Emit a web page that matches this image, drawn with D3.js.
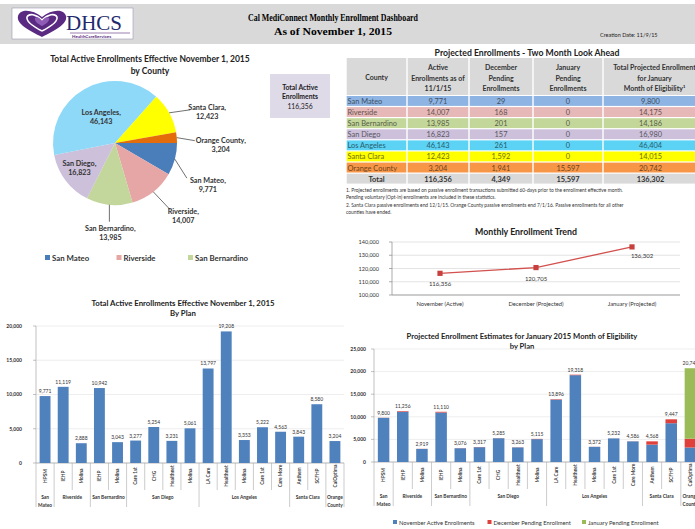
<!DOCTYPE html>
<html>
<head>
<meta charset="utf-8">
<style>
  body { margin: 0; background: #fff; }
  svg { display: block; font-family: Lato, "Open Sans", sans-serif; }
  .ttl { font-weight: bold; fill: #222; text-anchor: middle; }
</style>
</head>
<body>
<svg width="695" height="529"></svg>
<script src="https://d3js.org/d3.v7.min.js"></script>
<script>
// ---- data ----
var counties = ["San Mateo", "Riverside", "San Bernardino", "San Diego", "Los Angeles", "Santa Clara", "Orange County"];
var activeByCounty = [9771, 14007, 13985, 16823, 46143, 12423, 3204];
var decByCounty = [29, 168, 201, 157, 261, 1592, 1941];
var janByCounty = [0, 0, 0, 0, 0, 0, 15597];
var projByCounty = [9800, 14175, 14186, 16980, 46404, 14015, 20742];
var tableTotals = [116356, 4349, 15597, 136302];
var totalActive = 116356;

var trendMonths = ["November (Active)", "December (Projected)", "January (Projected)"];
var trendValues = [116356, 120705, 136302];

var plans = ["HPSM", "IEHP", "Molina", "IEHP", "Molina", "Care 1st", "CHG", "Healthnet", "Molina",
  "LA Care", "Healthnet", "Molina", "Care 1st", "Care More", "Anthem", "SCFHP", "CalOptima"];
var planCounty = ["San Mateo", "Riverside", "Riverside", "San Bernardino", "San Bernardino",
  "San Diego", "San Diego", "San Diego", "San Diego", "Los Angeles", "Los Angeles", "Los Angeles",
  "Los Angeles", "Los Angeles", "Santa Clara", "Santa Clara", "Orange County"];
var planActive = [9771, 11119, 2888, 10942, 3043, 3277, 5254, 3231, 5061, 13797, 19208, 3353, 5222, 4563, 3843, 8580, 3204];
var planDecPending = [29, 137, 31, 168, 33, 40, 31, 32, 54, 99, 110, 19, 10, 23, 725, 867, 1941];
var planJanPending = [0, 0, 0, 0, 0, 0, 0, 0, 0, 0, 0, 0, 0, 0, 0, 0, 15597];

var groupLabels = {"San Mateo": ["San", "Mateo"], "Orange County": ["Orange", "County"]};

var fmt = d3.format(",");
var svg = d3.select("svg");

var pieColor = d3.scaleOrdinal().domain(counties)
  .range(["#4a7ebb", "#e6a6a5", "#c3d69b", "#ccc0da", "#8ed8f8", "#ffff00", "#e46c0a"]);
var rowColor = d3.scaleOrdinal().domain(counties)
  .range(["#8db4e2", "#e6b8b7", "#c4d79b", "#ccc0da", "#5cd3f5", "#ffff00", "#f79646"]);

// ---- header ----
svg.append("rect").attr("x", 0).attr("y", 4).attr("width", 695).attr("height", 40).attr("fill", "#d9d9d9");
var logo = svg.append("g");
logo.append("rect").attr("x", 12).attr("y", 8).attr("width", 121).attr("height", 31)
  .attr("fill", "#fff").attr("stroke", "#9a9ab0").attr("stroke-width", 0.6);
logo.append("path")
  .attr("d", "M42,37 C30,31 16,24 18,16 C20,9 32,9 42,17 C52,9 64,9 66,16 C68,24 54,31 42,37 Z")
  .attr("fill", "#5a2a82");
logo.append("path")
  .attr("d", "M42,31 C34,27 26,22 27,17 C29,13 36,14 42,20 C48,14 55,13 57,17 C58,22 50,27 42,31")
  .attr("fill", "none").attr("stroke", "#fff").attr("stroke-width", 1.6);
logo.append("path")
  .attr("d", "M42,26 C38,24 34,21 35,18 C37,16 40,18 42,21 C44,18 47,16 49,18 C50,21 46,24 42,26 Z")
  .attr("fill", "#8e5bb5");
logo.append("text").attr("x", 66).attr("y", 30).attr("font-family", "Liberation Serif")
  .attr("font-size", 21).attr("fill", "#22286e").text("DHCS");
logo.append("line").attr("x1", 70).attr("x2", 130).attr("y1", 33).attr("y2", 33)
  .attr("stroke", "#5a2a82").attr("stroke-width", 0.6);
logo.append("text").attr("x", 72).attr("y", 37.5).attr("font-size", 4.5).attr("font-weight", "bold")
  .attr("fill", "#5a2a82").text("HealthCareServices");

svg.append("text").attr("x", 333).attr("y", 21).attr("text-anchor", "middle")
  .attr("font-family", "Liberation Serif").attr("font-weight", "bold").attr("font-size", 11)
  .attr("textLength", 170).attr("lengthAdjust", "spacingAndGlyphs")
  .text("Cal MediConnect Monthly Enrollment Dashboard");
svg.append("text").attr("x", 333).attr("y", 35).attr("text-anchor", "middle")
  .attr("font-family", "Liberation Serif").attr("font-weight", "bold").attr("font-size", 11)
  .attr("textLength", 118).attr("lengthAdjust", "spacingAndGlyphs")
  .text("As of November 1, 2015");
svg.append("text").attr("x", 600).attr("y", 37).attr("font-size", 5.5).attr("fill", "#222")
  .text("Creation Date: 11/9/15");

// ---- pie by county ----
svg.append("text").attr("class", "ttl").attr("x", 150).attr("y", 62).attr("font-size", 8.5)
  .text("Total Active Enrollments Effective November 1, 2015");
svg.append("text").attr("class", "ttl").attr("x", 150).attr("y", 74).attr("font-size", 8.5).text("by County");

var cx = 115, cy = 143, R = 62;
var pie = d3.pie().sort(null).startAngle(Math.PI / 2).endAngle(Math.PI / 2 + 2 * Math.PI);
var arcs = pie(activeByCounty);
var arc = d3.arc().innerRadius(0).outerRadius(R);
var pg = svg.append("g").attr("transform", "translate(" + cx + "," + cy + ")");
pg.selectAll("path").data(arcs).enter().append("path")
  .attr("d", arc)
  .attr("fill", function(d, i) { return pieColor(counties[i]); });

// label placement: inside ones use a radius fraction, outside ones offsets from the rim
var pieLabelLayout = {
  "San Mateo": {line: [12, 19], text: [33, 24]},
  "Riverside": {line: [17, 18], text: [30, 22]},
  "San Bernardino": {line: [0, 17], text: [1, 26]},
  "San Diego": {inside: 0.72},
  "Los Angeles": {inside: 0.45},
  "Santa Clara": {line: [21, -3], text: [38, -3]},
  "Orange County": {line: [18, 3], text: [44, 5]}
};
arcs.forEach(function(d, i) {
  var name = counties[i], lay = pieLabelLayout[name];
  var a = (d.startAngle + d.endAngle) / 2;
  var ex = Math.sin(a) * R, ey = -Math.cos(a) * R;
  var tx, ty;
  if (lay.inside) {
    tx = ex * lay.inside; ty = ey * lay.inside - 4;
  } else {
    pg.append("line").attr("x1", ex).attr("y1", ey)
      .attr("x2", ex + lay.line[0]).attr("y2", ey + lay.line[1])
      .attr("stroke", "#333").attr("stroke-width", 0.7);
    tx = ex + lay.text[0]; ty = ey + lay.text[1];
  }
  var t = pg.append("text").attr("text-anchor", "middle").attr("font-size", 7.2)
    .attr("font-weight", "bold").attr("fill", "#333");
  t.append("tspan").attr("x", tx).attr("y", ty).text(name + ",");
  t.append("tspan").attr("x", tx).attr("y", ty + 9).text(fmt(activeByCounty[i]));
});

// pie legend (only the first three entries visible)
var legItems = counties.slice(0, 3);
var legX = d3.scalePoint().domain(legItems).range([45, 188]);
legItems.forEach(function(c) {
  svg.append("rect").attr("x", legX(c)).attr("y", 255).attr("width", 5).attr("height", 5).attr("fill", pieColor(c));
  svg.append("text").attr("x", legX(c) + 7).attr("y", 260.5).attr("font-size", 7.8)
    .attr("font-weight", "bold").attr("fill", "#333").text(c);
});

// total box
svg.append("rect").attr("x", 270).attr("y", 74).attr("width", 60).attr("height", 44).attr("fill", "#dfdae8");
svg.append("text").attr("x", 300).attr("y", 90).attr("text-anchor", "middle").attr("font-size", 6.8)
  .attr("font-weight", "bold").attr("fill", "#222").text("Total Active");
svg.append("text").attr("x", 300).attr("y", 99).attr("text-anchor", "middle").attr("font-size", 6.8)
  .attr("font-weight", "bold").attr("fill", "#222").text("Enrollments");
svg.append("text").attr("x", 300).attr("y", 109).attr("text-anchor", "middle").attr("font-size", 6.8)
  .attr("fill", "#222").text(fmt(totalActive));

// ---- table ----
svg.append("text").attr("class", "ttl").attr("x", 527).attr("y", 56).attr("font-size", 8.7)
  .text("Projected Enrollments - Two Month Look Ahead");
var colEdges = [346, 407, 469, 533, 603, 702];
var headerLines = [
  ["County"],
  ["Active", "Enrollments as of", "11/1/15"],
  ["December", "Pending", "Enrollments"],
  ["January", "Pending", "Enrollments"],
  ["Total Projected Enrollment", "for January", "Month of Eligibility\u00b9"]
];
var tg = svg.append("g");
var headTop = 58, headH = 37, rowTop = 96, rowH = 11.1;
headerLines.forEach(function(lines, c) {
  var x0 = colEdges[c], x1 = colEdges[c + 1];
  tg.append("rect").attr("x", x0 + 0.7).attr("y", headTop).attr("width", x1 - x0 - 1.4)
    .attr("height", headH).attr("fill", "#d9d9d9");
  lines.forEach(function(l, k) {
    tg.append("text").attr("x", (x0 + x1) / 2 + (c === 4 ? 2 : 0))
      .attr("y", headTop + 20 - (lines.length - 1) * 5 + k * 10.5 + 2)
      .attr("text-anchor", "middle").attr("font-size", 7).attr("font-weight", "bold")
      .attr("fill", "#333").text(l);
  });
});
var tableRows = counties.map(function(c, i) {
  return [c, activeByCounty[i], decByCounty[i], janByCounty[i], projByCounty[i]];
});
tableRows.forEach(function(row, r) {
  var y = rowTop + r * rowH, fill = rowColor(row[0]);
  var tc = d3.color(fill).darker(2.3).formatHex();
  row.forEach(function(v, c) {
    var x0 = colEdges[c], x1 = colEdges[c + 1];
    tg.append("rect").attr("x", x0 + 0.7).attr("y", y).attr("width", x1 - x0 - 1.4)
      .attr("height", rowH - 1.2).attr("fill", fill);
    tg.append("text").attr("x", c === 0 ? x0 + 1.5 : (x0 + x1) / 2 - (c === 4 ? 2 : 0))
      .attr("y", y + 7.9).attr("text-anchor", c === 0 ? "start" : "middle")
      .attr("font-size", 7.4).attr("fill", tc).text(c === 0 ? v : fmt(v));
  });
});
var totY = rowTop + counties.length * rowH;
["Total"].concat(tableTotals).forEach(function(v, c) {
  var x0 = colEdges[c], x1 = colEdges[c + 1];
  tg.append("rect").attr("x", x0 + 0.7).attr("y", totY).attr("width", x1 - x0 - 1.4)
    .attr("height", rowH - 1.2).attr("fill", "#d9d9d9");
  tg.append("text").attr("x", (x0 + x1) / 2 - (c === 4 ? 2 : 0)).attr("y", totY + 7.9)
    .attr("text-anchor", "middle").attr("font-size", 7.4).attr("font-weight", "bold")
    .attr("fill", "#333").text(c === 0 ? v : fmt(v));
});
var notes = [
  "1. Projected enrollments are based on passive enrollment transactions submitted 60-days prior to the enrollment effective month.",
  "Pending voluntary (Opt-in) enrollments are included in these statistics.",
  "2. Santa Clara passive enrollments end 12/1/15. Orange County passive enrollments end 7/1/16. Passive enrollments for all other",
  "counties have ended."
];
notes.forEach(function(n, k) {
  svg.append("text").attr("x", 346).attr("y", 192 + k * 7.3).attr("font-size", 4.9)
    .attr("fill", "#333").text(n);
});

// ---- trend line ----
svg.append("text").attr("class", "ttl").attr("x", 526).attr("y", 235).attr("font-size", 8.8)
  .text("Monthly Enrollment Trend");
var tx = d3.scaleBand().domain(trendMonths).range([392, 680]);
var ty = d3.scaleLinear().domain([100000, 140000]).range([295, 242]);
var trg = svg.append("g");
ty.ticks(4).forEach(function(t) {
  trg.append("line").attr("x1", 392).attr("x2", 680).attr("y1", ty(t)).attr("y2", ty(t))
    .attr("stroke", "#d9d9d9").attr("stroke-width", 0.7);
  trg.append("line").attr("x1", 389).attr("x2", 392).attr("y1", ty(t)).attr("y2", ty(t))
    .attr("stroke", "#888").attr("stroke-width", 0.7);
  trg.append("text").attr("x", 379).attr("y", ty(t) + 2).attr("text-anchor", "end")
    .attr("font-size", 5.5).attr("fill", "#333").text(fmt(t));
});
trg.append("line").attr("x1", 392).attr("x2", 392).attr("y1", 242).attr("y2", 295).attr("stroke", "#888").attr("stroke-width", 0.7);
trg.append("line").attr("x1", 392).attr("x2", 680).attr("y1", 295).attr("y2", 295).attr("stroke", "#888").attr("stroke-width", 0.7);
trendMonths.forEach(function(m) {
  trg.append("text").attr("x", tx(m) + tx.bandwidth() / 2).attr("y", 306).attr("text-anchor", "middle")
    .attr("font-size", 5.8).attr("fill", "#333").text(m);
});
var tline = d3.line().x(function(d, i) { return tx(trendMonths[i]) + tx.bandwidth() / 2; })
  .y(function(d) { return ty(d); });
trg.append("path").attr("d", tline(trendValues)).attr("fill", "none")
  .attr("stroke", "#d2504d").attr("stroke-width", 1.3);
trendValues.forEach(function(v, i) {
  var px = tx(trendMonths[i]) + tx.bandwidth() / 2, py = ty(v);
  trg.append("rect").attr("x", px - 2.6).attr("y", py - 2.6).attr("width", 5.2).attr("height", 5.2).attr("fill", "#c8403e");
  trg.append("text").attr("x", px + (i === 2 ? 10 : 0)).attr("y", py + (i === 2 ? 11 : 13))
    .attr("text-anchor", "middle").attr("font-size", 6).attr("fill", "#333").text(fmt(v));
});

// ---- bar charts by plan ----
function barChart(o) {
  var g = svg.append("g");
  var n = plans.length;
  var x = d3.scaleBand().domain(d3.range(n)).range([o.left, o.right]).paddingInner(0.4).paddingOuter(0.2);
  var y = d3.scaleLinear().domain([0, o.max]).range([o.bottom, o.top]);
  var step = x.step();
  y.ticks(o.max / 5000).forEach(function(t) {
    g.append("line").attr("x1", o.left).attr("x2", o.right).attr("y1", y(t)).attr("y2", y(t))
      .attr("stroke", "#e3e3e3").attr("stroke-width", 0.6);
    g.append("line").attr("x1", o.left - 3).attr("x2", o.left).attr("y1", y(t)).attr("y2", y(t))
      .attr("stroke", "#999").attr("stroke-width", 0.6);
    g.append("text").attr("x", o.left - o.labelGap).attr("y", y(t) + 1.8).attr("text-anchor", "end")
      .attr("font-size", 5).attr("font-weight", "bold").attr("fill", "#333").text(fmt(t));
  });
  g.append("line").attr("x1", o.left).attr("x2", o.left).attr("y1", o.top).attr("y2", o.bottom)
    .attr("stroke", "#999").attr("stroke-width", 0.6);
  g.append("line").attr("x1", o.left).attr("x2", o.right).attr("y1", o.bottom).attr("y2", o.bottom)
    .attr("stroke", "#999").attr("stroke-width", 0.6);

  var rows = plans.map(function(p, i) {
    return {nov: planActive[i], dec: o.stacked ? planDecPending[i] : 0, jan: o.stacked ? planJanPending[i] : 0};
  });
  var series = d3.stack().keys(["nov", "dec", "jan"])(rows);
  var colors = {nov: "#4f81bd", dec: "#e0403c", jan: "#9bbb59"};
  series.forEach(function(s) {
    g.selectAll(null).data(s).enter().append("rect")
      .attr("x", function(d, i) { return x(i); })
      .attr("width", x.bandwidth())
      .attr("y", function(d) { return y(d[1]); })
      .attr("height", function(d) { return y(d[0]) - y(d[1]); })
      .attr("fill", colors[s.key]);
  });
  rows.forEach(function(r, i) {
    var tot = r.nov + r.dec + r.jan;
    g.append("text").attr("x", x(i) + x.bandwidth() / 2).attr("y", y(tot) - 3)
      .attr("text-anchor", "middle").attr("font-size", 5).attr("fill", "#333").text(fmt(tot));
    g.append("text")
      .attr("transform", "translate(" + (x(i) + x.bandwidth() / 2 + 1.8) + "," + (o.bottom + 13) + ") rotate(-90)")
      .attr("text-anchor", "middle").attr("font-size", 4.8).attr("font-weight", "bold")
      .attr("fill", "#444").text(plans[i]);
  });
  // separators and county groups
  for (var i = 0; i <= n; i++) {
    var edge = i === 0 || i === n || planCounty[i] !== planCounty[i - 1];
    g.append("line").attr("x1", o.left + i * step).attr("x2", o.left + i * step)
      .attr("y1", o.bottom).attr("y2", o.bottom + (edge ? 44 : 27))
      .attr("stroke", "#aaa").attr("stroke-width", 0.6);
  }
  counties.forEach(function(c) {
    var idx = d3.range(n).filter(function(i) { return planCounty[i] === c; });
    var mid = o.left + (idx[0] + idx[idx.length - 1] + 1) / 2 * step;
    var lines = groupLabels[c] || [c];
    lines.forEach(function(l, k) {
      g.append("text").attr("x", mid).attr("y", o.bottom + 36 + k * 7.5).attr("text-anchor", "middle")
        .attr("font-size", 4.8).attr("font-weight", "bold").attr("fill", "#333").text(l);
    });
  });
}

svg.append("text").attr("class", "ttl").attr("x", 183).attr("y", 306).attr("font-size", 7.8)
  .text("Total Active Enrollments Effective November 1, 2015");
svg.append("text").attr("class", "ttl").attr("x", 183).attr("y", 316).attr("font-size", 7.8).text("By Plan");
barChart({left: 36, right: 344, top: 326, bottom: 463, max: 20000, stacked: false, labelGap: 14});

svg.append("text").attr("class", "ttl").attr("x", 522).attr("y", 339).attr("font-size", 7.6)
  .text("Projected Enrollment Estimates for January 2015 Month of Eligibility");
svg.append("text").attr("class", "ttl").attr("x", 522).attr("y", 349).attr("font-size", 7.6).text("by Plan");
barChart({left: 374, right: 700, top: 349, bottom: 462, max: 25000, stacked: true, labelGap: 8});

// legend for stacked chart
var legKeys = ["November Active Enrollments", "December Pending Enrollment", "January Pending Enrollment"];
var legCols = ["#4f81bd", "#e0403c", "#9bbb59"];
var lx = d3.scalePoint().domain(legKeys).range([393, 582]);
legKeys.forEach(function(k, i) {
  svg.append("rect").attr("x", lx(k)).attr("y", 520).attr("width", 4).attr("height", 4).attr("fill", legCols[i]);
  svg.append("text").attr("x", lx(k) + 6).attr("y", 524.5).attr("font-size", 5.8).attr("fill", "#333").text(k);
});
</script>
</body>
</html>
